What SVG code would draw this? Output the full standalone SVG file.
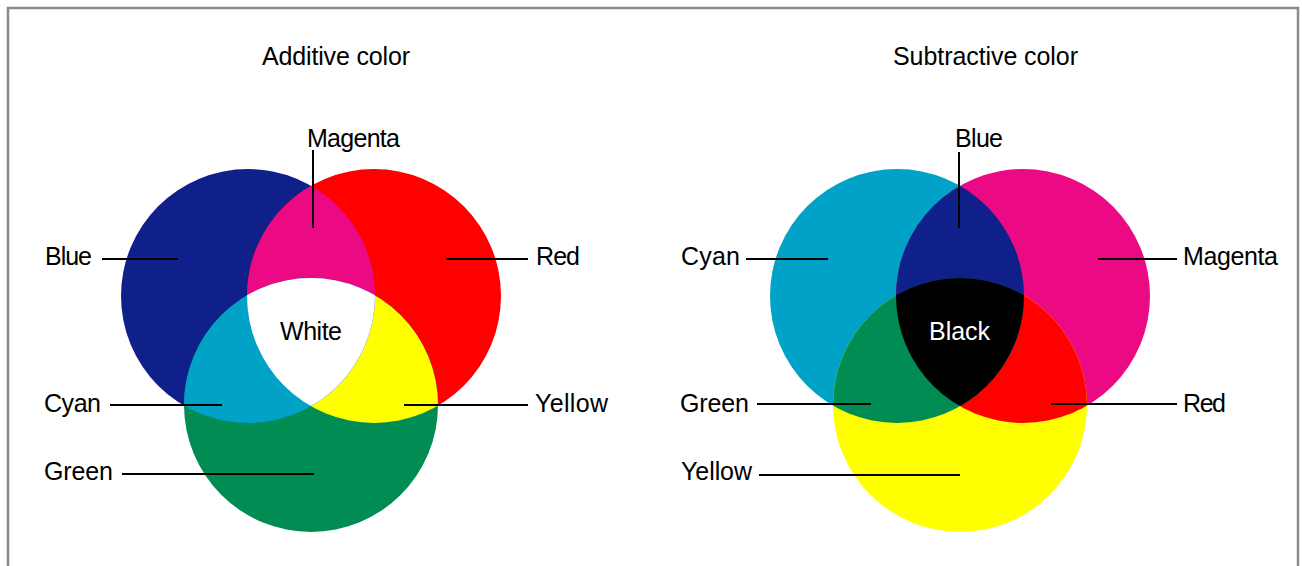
<svg xmlns="http://www.w3.org/2000/svg" width="1302" height="566" viewBox="0 0 1302 566">
<style>
.t{font-family:"Liberation Sans",Arial,sans-serif;font-size:25px;fill:#000}
.w{fill:#fff}
.ln{stroke:#000;stroke-width:2;fill:none}
</style>
<defs>
<clipPath id="aB"><circle cx="248" cy="296" r="127"/></clipPath>
<clipPath id="aR"><circle cx="374" cy="296" r="127"/></clipPath>
<clipPath id="sC"><circle cx="897" cy="296" r="127"/></clipPath>
<clipPath id="sM"><circle cx="1023" cy="296" r="127"/></clipPath>
</defs>
<rect x="0" y="0" width="1302" height="566" fill="#fff"/>
<rect x="8" y="8" width="1290" height="620" fill="#fff" stroke="#8a8a8a" stroke-width="2.5"/>

<g id="additive">
<text class="t" x="262" y="65" textLength="148" lengthAdjust="spacing">Additive color</text>
<g id="add-blue"><circle cx="248" cy="296" r="127" fill="#10208a"/></g>
<g id="add-red"><circle cx="374" cy="296" r="127" fill="#ff0000"/></g>
<g id="add-green"><circle cx="311" cy="405" r="127" fill="#008c52"/></g>
<g id="add-yellow" clip-path="url(#aR)"><circle cx="311" cy="405" r="127" fill="#ffff00"/></g>
<g clip-path="url(#aB)">
<g id="add-magenta"><circle cx="374" cy="296" r="127" fill="#ec0a84"/></g>
<g id="add-cyan"><circle cx="311" cy="405" r="127" fill="#00a2c8"/></g>
<g id="add-white" clip-path="url(#aR)"><circle cx="311" cy="405" r="127" fill="#ffffff"/></g>
</g>
<text class="t" x="307" y="147" textLength="93" lengthAdjust="spacing">Magenta</text>
<text class="t" x="45" y="265" textLength="47" lengthAdjust="spacing">Blue</text>
<text class="t" x="536" y="265" textLength="44" lengthAdjust="spacing">Red</text>
<text class="t" x="280" y="340" textLength="62" lengthAdjust="spacing">White</text>
<text class="t" x="44" y="412" textLength="57" lengthAdjust="spacing">Cyan</text>
<text class="t" x="535" y="412" textLength="73" lengthAdjust="spacing">Yellow</text>
<text class="t" x="44" y="480" textLength="69" lengthAdjust="spacing">Green</text>
</g>

<g id="subtractive">
<text class="t" x="893" y="65" textLength="185" lengthAdjust="spacing">Subtractive color</text>
<g id="sub-cyan"><circle cx="897" cy="296" r="127" fill="#00a2c8"/></g>
<g id="sub-magenta"><circle cx="1023" cy="296" r="127" fill="#ec0a84"/></g>
<g id="sub-yellow"><circle cx="960" cy="405" r="127" fill="#ffff00"/></g>
<g id="sub-red" clip-path="url(#sM)"><circle cx="960" cy="405" r="127" fill="#ff0000"/></g>
<g clip-path="url(#sC)">
<g id="sub-blue"><circle cx="1023" cy="296" r="127" fill="#10208a"/></g>
<g id="sub-green"><circle cx="960" cy="405" r="127" fill="#008c52"/></g>
<g id="sub-black" clip-path="url(#sM)"><circle cx="960" cy="405" r="127" fill="#000000"/></g>
</g>
<text class="t" x="955" y="147" textLength="48" lengthAdjust="spacing">Blue</text>
<text class="t" x="681" y="265" textLength="59" lengthAdjust="spacing">Cyan</text>
<text class="t" x="1183" y="265" textLength="95" lengthAdjust="spacing">Magenta</text>
<text class="t w" x="929" y="340" textLength="61" lengthAdjust="spacing">Black</text>
<text class="t" x="680" y="412" textLength="69" lengthAdjust="spacing">Green</text>
<text class="t" x="1183" y="412" textLength="43" lengthAdjust="spacing">Red</text>
<text class="t" x="681" y="480" textLength="71" lengthAdjust="spacing">Yellow</text>
</g>

<g id="connectors" class="ln">
<line x1="313" y1="150" x2="313" y2="228"/>
<line x1="102" y1="259" x2="178" y2="259"/>
<line x1="446" y1="259" x2="528" y2="259"/>
<line x1="110" y1="405" x2="222" y2="405"/>
<line x1="404" y1="405" x2="528" y2="405"/>
<line x1="122" y1="474" x2="314" y2="474"/>
<line x1="959" y1="152" x2="959" y2="228"/>
<line x1="746" y1="259" x2="828" y2="259"/>
<line x1="1098" y1="259" x2="1177" y2="259"/>
<line x1="757" y1="404" x2="871" y2="404"/>
<line x1="1051" y1="404" x2="1177" y2="404"/>
<line x1="759" y1="475" x2="960" y2="475"/>
</g>
</svg>
